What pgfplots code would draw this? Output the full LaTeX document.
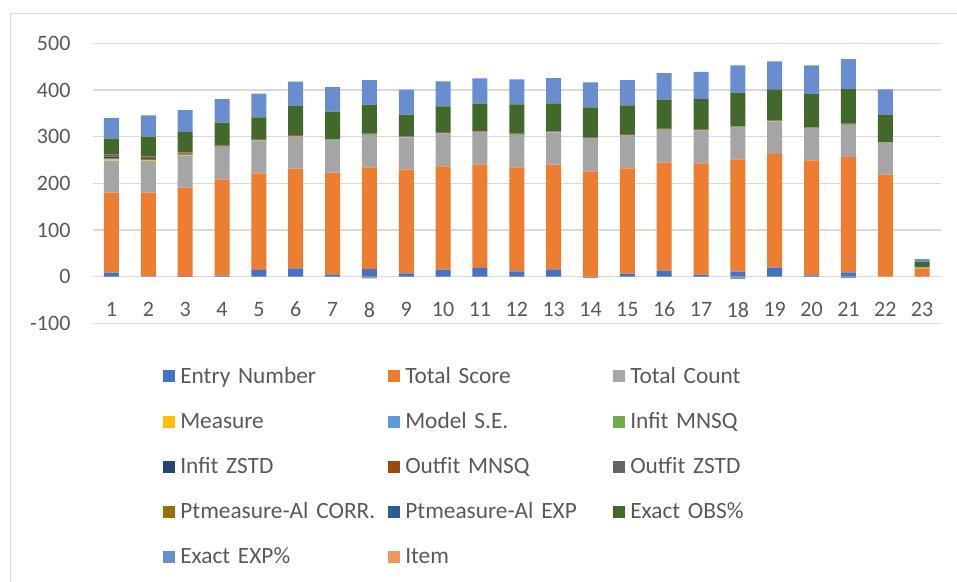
\documentclass[border=0pt]{standalone}
\usepackage{pgfplots}
\usepackage{pgfplotstable}
\pgfplotsset{compat=1.18}
\usepackage{fontspec}
\setmainfont{Carlito}
\definecolor{cen}{HTML}{4472C4}
\definecolor{cts}{HTML}{ED7D31}
\definecolor{ctc}{HTML}{A5A5A5}
\definecolor{cme}{HTML}{FFC000}
\definecolor{cse}{HTML}{5B9BD5}
\definecolor{cim}{HTML}{70AD47}
\definecolor{ciz}{HTML}{264478}
\definecolor{com}{HTML}{9E480E}
\definecolor{coz}{HTML}{636363}
\definecolor{cpc}{HTML}{997300}
\definecolor{cpe}{HTML}{255E91}
\definecolor{cobs}{HTML}{43682B}
\definecolor{cexp}{HTML}{698ED0}
\definecolor{citem}{HTML}{F1975A}
\definecolor{cneg}{HTML}{959595}
\definecolor{txt}{HTML}{595959}
\definecolor{grd}{HTML}{D9D9D9}
\pgfplotstableread{
x neg en ts tc me se im iz om oz pc pe obs exp item
1 0 8.6 171.4 68.5 2.5 0.5 1.5 3 2 4 0.5 0.5 33 44 0
2 0 0.8 179.2 68 1 0.3 1.2 1 3 3 0.5 0.5 41.5 45.7 0
3 0 1 189.7 68.3 1 0.3 1.2 1 1.5 2 0.5 0.5 43 47 0
4 0 2 206.6 68.9 0.3 0.2 1.0 0.3 1.0 0.5 0.3 0.3 48.6 50.7 0
5 0 14.3 207.1 70 0.3 0.2 1.0 0.3 1.0 0.5 0.3 0.3 46.1 50.6 0
6 0 17.9 213.5 69.1 0.2 0.2 0.9 0.1 0.9 0.1 0.3 0.3 62.2 52.2 0
7 0 5 217.9 70.1 0.2 0.2 0.6 0 0.6 0.1 0.3 0.3 58.5 52.6 0
8 -3.5 16.4 217.9 69.3 0.3 0.2 1.0 0.3 1.0 0.5 0.3 0.3 61.1 52.8 0
9 0 7.1 222.2 69.3 0.2 0.2 0.9 0.1 0.9 0.1 0.3 0.3 45.4 53.7 0
10 0 15 221.4 70 0.2 0.2 0.6 0 0.6 0.1 0.3 0.3 56.3 53.6 0
11 0 18.6 222.1 69.3 0.2 0.2 0.6 0 0.6 0.1 0.3 0.3 58.4 54.3 0
12 0 11.4 222.9 69.3 0.3 0.2 1.0 0.3 1.0 0.5 0.3 0.3 61.8 53.6 0
13 0 15.7 224.3 69.3 0.2 0.2 0.9 0.1 0.9 0.1 0.3 0.3 59.1 54.3 0
14 -3 0 225.7 70.7 0.1 0.1 0.4 0 0.4 0 0.25 0.25 65 53.5 0
15 0 6.4 225.6 70 0.3 0.2 1.0 0.3 1.0 0.5 0.3 0.3 61.1 54.4 0
16 0 12.9 231.4 70 0.2 0.2 0.9 0.1 0.9 0.1 0.3 0.3 62 57.1 0
17 0 4.3 238.6 70 0.3 0.2 1.0 0.3 1.0 0.5 0.3 0.3 63.9 57.9 0
18 -5 10.7 240.7 69.3 0.1 0.1 0.4 0 0.4 0 0.25 0.25 72.1 58.6 0
19 0 19.3 243.6 70 0.2 0.2 0.9 0.1 0.9 0.1 0.3 0.3 65.5 60 0
20 0 2.9 246.4 69.3 0.2 0.2 0.6 0 0.6 0.1 0.3 0.3 70.5 61.5 0
21 -3 9.3 247.1 68.6 0.3 0.2 1.0 0.3 1.0 0.5 0.3 0.3 73.1 64.4 0
22 0 0 218.6 68.5 0.1 0.1 0.4 0 0.4 0 0.25 0.25 57.8 55 0
23 0 0 18 2.5 0 0 0.1 0 0.1 0 0.15 0.15 10 6.5 0
}\data
\begin{document}
\begin{tikzpicture}
\path[use as bounding box] (0,0) rectangle (717.75pt,436.5pt);
\draw[grd, line width=0.75pt] (7.5pt,0) -- (7.5pt,426pt) -- (717.75pt,426pt);
\begin{axis}[
  at={(69.8pt,194pt)}, anchor=south west,
  scale only axis, width=635.6pt, height=210pt,
  ybar stacked, bar width=11.25pt,
  xmin=0.5, xmax=23.5, ymin=-100, ymax=500,
  xtick={1,...,23}, ytick={-100,0,...,500},
  axis line style={draw=none},
  major tick length=0pt,
  ymajorgrids, grid style={grd, line width=0.9pt},
  tick label style={font=\fontsize{16.5}{20}\selectfont, text=txt},
  /pgf/number format/assume math mode=true,
  yticklabel style={inner sep=0pt, anchor=east, xshift=-16.8pt},
  xticklabel style={inner sep=0pt, anchor=north, yshift=16.2pt},
  legend columns=3,
  legend style={at={(0.0778,-0.14)}, anchor=north west, draw=none, fill=none,
    font=\fontsize{17.5}{21}\selectfont, text=txt,
    column sep=0pt, row sep=17.3pt,
    nodes={inner sep=0pt, text height=13.5pt, text depth=3pt, anchor=west, text width=156pt, align=left}},
  legend image code/.code={\fill[#1] (0pt,-4.5pt) rectangle (9pt,4.5pt); \path (12.75pt,0pt);},
  every axis plot/.append style={draw=none},
]
\addplot[fill=cneg, forget plot] table[x=x,y=neg]{\data};
\addplot[fill=cen] table[x=x,y=en]{\data}; \addlegendentry{Entry Number}
\addplot[fill=cts] table[x=x,y=ts]{\data}; \addlegendentry{Total Score}
\addplot[fill=ctc] table[x=x,y=tc]{\data}; \addlegendentry{Total Count}
\addplot[fill=cme] table[x=x,y=me]{\data}; \addlegendentry{Measure}
\addplot[fill=cse] table[x=x,y=se]{\data}; \addlegendentry{Model S.E.}
\addplot[fill=cim] table[x=x,y=im]{\data}; \addlegendentry{Infit MNSQ}
\addplot[fill=ciz] table[x=x,y=iz]{\data}; \addlegendentry{Infit ZSTD}
\addplot[fill=com] table[x=x,y=om]{\data}; \addlegendentry{Outfit MNSQ}
\addplot[fill=coz] table[x=x,y=oz]{\data}; \addlegendentry{Outfit ZSTD}
\addplot[fill=cpc] table[x=x,y=pc]{\data}; \addlegendentry{Ptmeasure-Al CORR.}
\addplot[fill=cpe] table[x=x,y=pe]{\data}; \addlegendentry{Ptmeasure-Al EXP}
\addplot[fill=cobs] table[x=x,y=obs]{\data}; \addlegendentry{Exact OBS\%}
\addplot[fill=cexp] table[x=x,y=exp]{\data}; \addlegendentry{Exact EXP\%}
\addplot[fill=citem] table[x=x,y=item]{\data}; \addlegendentry{Item}
\end{axis}
\end{tikzpicture}
\end{document}
